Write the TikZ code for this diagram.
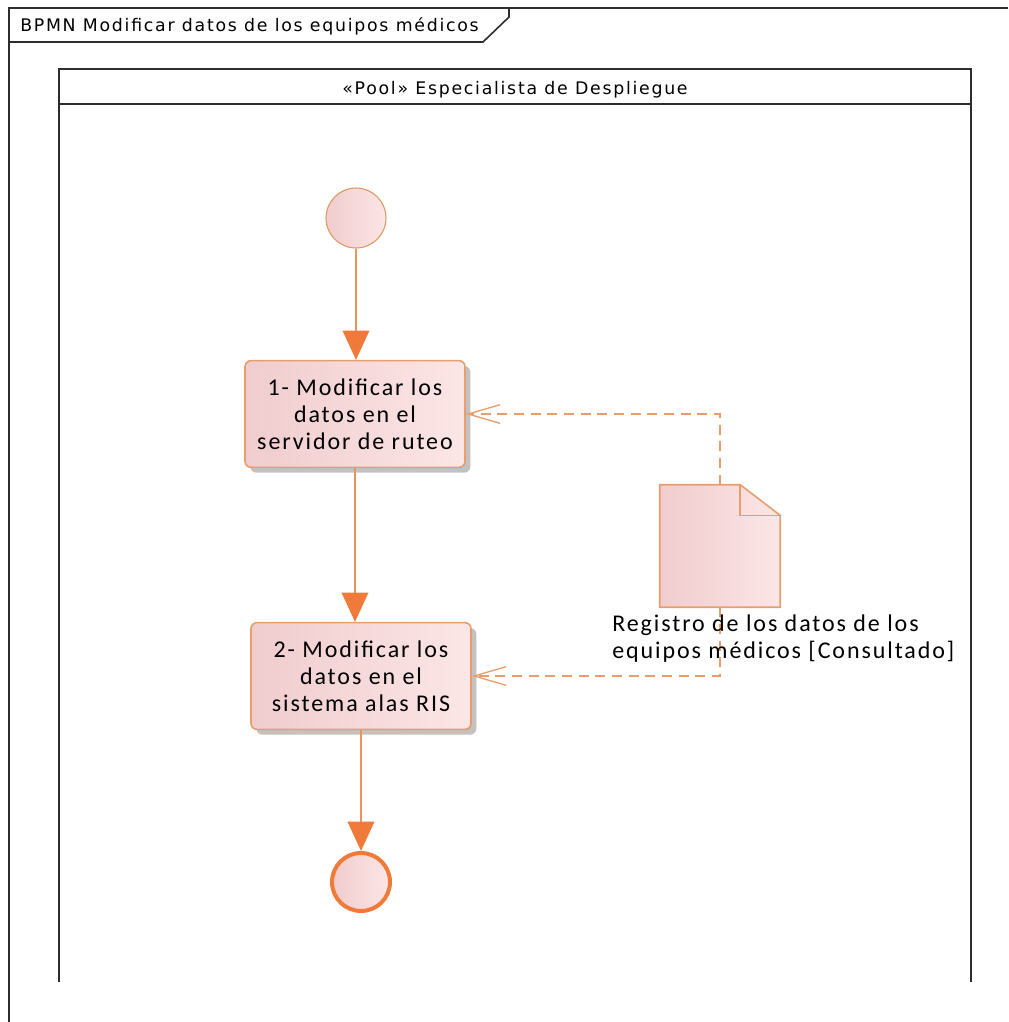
\documentclass[tikz,border=0pt]{standalone}
\usepackage{fontspec}
\setmainfont{Carlito}
\newfontfamily\framefont[LetterSpace=10]{DejaVu Sans}
\newfontfamily\taskfont[LetterSpace=8]{Carlito}
\usepackage{tikz}
\usetikzlibrary{arrows.meta,shadows}
\definecolor{flowcol}{RGB}{240,122,58}
\definecolor{edgecol}{RGB}{232,158,108}
\definecolor{lightfill}{RGB}{252,230,230}
\definecolor{darkfill}{RGB}{240,204,206}
\definecolor{framecol}{RGB}{45,45,45}
\begin{document}
\begin{tikzpicture}[x=0.75pt,y=-0.75pt,
    frame/.style={draw=framecol,line width=1.2pt},
    label/.style={inner sep=0pt,font=\framefont\fontsize{13}{15}\selectfont},
    task/.style={draw=edgecol,line width=1.2pt,rounded corners=4.5pt,left color=darkfill,right color=lightfill,
      minimum width=165pt,minimum height=80pt,align=center,font=\taskfont\fontsize{18}{20.25}\selectfont,
      drop shadow={shadow xshift=4pt,shadow yshift=-4pt,fill=black!24,opacity=1}},
    event/.style={circle,minimum size=45pt,inner sep=0pt,left color=darkfill,right color=lightfill},
    flow/.style={draw=edgecol!70!flowcol,line width=1.1pt,-{Triangle[length=22pt,width=20pt,color=flowcol]}},
    assoc/.style={draw=edgecol,line width=1pt,dash pattern=on 7.5pt off 5pt,-{Straight Barb[length=24pt,width=14pt]}}]
  \useasboundingbox (0,0) rectangle (1008,1022);
  % diagram frame and pool
  \draw[frame] (1008,8) -- (9,8) -- (9,1022);
  \draw[frame] (9,42) -- (483,42) -- (509,17) -- (509,8);
  \node[label,anchor=base west] (title) at (20,31) {BPMN Modificar datos de los equipos médicos};
  \draw[frame] (59,982) -- (59,69) -- (971,69) -- (971,982) (59,104) -- (971,104);
  \node[label,anchor=base] (pool) at (515,94) {«Pool» Especialista de Despliegue};
  % events and tasks
  \node[event,draw=edgecol!80!brown,line width=0.8pt] (start) at (356,218) {};
  \node[task] (t1) at (355,414) {1- Modificar los\\datos en el\\servidor de ruteo};
  \node[task] (t2) at (361,676) {2- Modificar los\\datos en el\\sistema alas RIS};
  \node[event,draw=flowcol,line width=3pt,minimum size=43.5pt] (end) at (361,882) {};
  \draw[flow] (start) -- (start |- t1.north);
  \draw[flow] (t1.south) -- (t1.south |- t2.north);
  \draw[flow] (t2) -- (end);
  % data object
  \node[minimum width=90pt,minimum height=91.5pt,inner sep=0pt] (doc) at (720,546) {};
  \fill[black!24,xshift=4pt,yshift=-4pt] (doc.north west) -- ([xshift=-30pt]doc.north east)
      -- ([yshift=-23pt]doc.north east) -- (doc.south east) -- (doc.south west) -- cycle;
  \draw[edgecol,line width=1.2pt,left color=darkfill,right color=lightfill] (doc.north west)
      -- ([xshift=-30pt]doc.north east) -- ([yshift=-23pt]doc.north east) -- (doc.south east)
      -- (doc.south west) -- cycle;
  \draw[edgecol,line width=1.2pt] ([xshift=-30pt]doc.north east) |- ([yshift=-23pt]doc.north east);
  \draw[assoc] (doc.north) |- (t1.east);
  \draw[assoc] (doc.south) |- (t2.east);
  \node[anchor=base west,align=left,inner sep=0pt,font=\taskfont\fontsize{18}{20}\selectfont] (doclabel)
      at (612,658) {Registro de los datos de los\\equipos médicos [Consultado]};
\end{tikzpicture}
\end{document}
